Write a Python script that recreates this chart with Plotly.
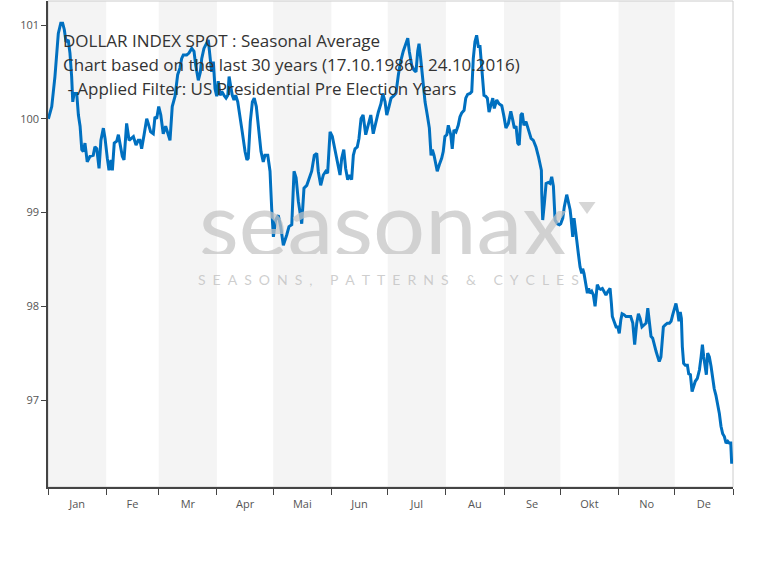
import plotly.graph_objects as go

# ---- data (day of year, seasonal average value) ----
days = [0.2, 2.0, 3.7, 5.5, 6.8, 7.8, 8.7, 9.6, 10.8, 11.7, 12.6, 13.2, 13.9, 15.3, 16.2, 17.1, 18.0, 18.8,
        19.7, 20.9, 22.4, 24.1, 25.0, 26.0, 27.2, 28.2, 29.5, 30.4, 31.6, 32.5, 33.6, 34.3, 35.3, 36.6, 37.5,
        38.7, 39.6, 40.5, 41.9, 43.2, 44.2, 45.5, 46.9, 48.1, 49.0, 49.9, 51.2, 52.6, 53.4, 54.7, 56.1, 57.0,
        57.9, 59.0, 60.1, 61.4, 62.7, 64.1, 65.0, 66.2, 67.7, 69.1, 70.3, 71.2, 72.1, 73.9, 75.1, 76.6, 77.8,
        78.7, 80.1, 81.2, 81.9, 83.1, 84.6, 85.4, 86.5, 87.2, 88.1, 89.0, 89.9, 90.7, 91.7, 92.6, 93.8, 94.9,
        95.8, 96.5, 97.4, 98.2, 99.1, 100.0, 101.1, 102.3, 103.5, 105.0, 106.0, 106.7, 107.8, 108.9, 109.9,
        111.0, 112.1, 113.5, 114.7, 115.6, 117.1, 118.3, 119.2, 120.1, 121.3, 122.7, 124.0, 125.4, 127.2,
        128.4, 129.9, 131.1, 132.2, 133.4, 135.2, 136.4, 137.9, 139.1, 140.5, 141.9, 143.2, 144.0, 145.3,
        146.7, 148.0, 149.0, 150.3, 151.5, 152.9, 154.4, 155.6, 156.5, 157.6, 158.6, 159.7, 160.8, 161.8,
        162.7, 163.6, 164.8, 165.7, 166.8, 167.9, 169.3, 170.7, 172.0, 173.3, 174.6, 176.0, 177.4, 178.4,
        179.6, 180.5, 181.7, 182.8, 184.0, 185.4, 186.7, 187.9, 189.3, 190.6, 191.7, 192.5, 193.8, 195.0,
        196.1, 197.0, 197.7, 198.6, 199.7, 200.9, 202.1, 203.2, 204.1, 204.8, 205.7, 206.6, 207.4, 208.5,
        209.8, 210.6, 211.5, 212.5, 213.3, 214.6, 215.4, 216.3, 217.4, 218.6, 219.5, 220.4, 221.7, 222.6,
        223.6, 224.9, 225.8, 226.6, 227.5, 228.4, 229.3, 230.2, 231.1, 232.3, 233.2, 234.1, 235.0, 236.1,
        237.0, 237.8, 239.1, 240.3, 241.8, 243.0, 244.0, 245.3, 246.6, 247.6, 248.5, 249.4, 250.3, 251.1,
        252.0, 252.7, 253.6, 254.7, 255.9, 257.4, 258.6, 260.0, 261.3, 262.2, 262.9, 263.1, 263.6, 264.5,
        265.4, 266.6, 267.5, 268.4, 269.3, 270.2, 271.4, 272.5, 273.2, 274.3, 275.1, 276.4, 277.2, 278.2,
        278.7, 279.6, 280.3, 281.0, 281.7, 282.6, 283.5, 284.4, 284.9, 285.6, 286.5, 287.4, 288.1, 288.8,
        289.7, 290.6, 291.5, 292.0, 292.7, 293.6, 294.5, 295.4, 296.3, 297.3, 298.4, 299.5, 300.2, 300.7,
        301.6, 302.7, 303.6, 304.4, 305.2, 305.9, 306.9, 308.0, 309.2, 310.5, 311.6, 312.6, 313.7, 314.6,
        315.5, 316.5, 317.6, 318.7, 319.6, 320.3, 321.3, 322.2, 323.1, 324.0, 324.9, 325.7, 326.6, 327.3,
        327.9, 328.8, 330.0, 331.1, 332.0, 332.9, 333.7, 334.6, 335.5, 336.2, 336.9, 337.5, 338.0, 338.7,
        339.6, 340.7, 341.4, 342.3, 343.2, 343.9, 344.9, 346.0, 347.1, 348.0, 348.7, 349.4, 350.1, 350.8,
        351.5, 352.4, 353.3, 354.2, 355.0, 355.9, 356.8, 357.7, 358.6, 359.5, 360.4, 361.3, 362.2, 363.0,
        363.8, 364.3]
values = [100.00, 100.13, 100.45, 100.91, 101.02, 101.02, 100.95, 100.82, 100.84, 100.70, 100.45, 100.18,
          100.27, 100.27, 100.04, 99.92, 99.67, 99.65, 99.74, 99.54, 99.60, 99.61, 99.70, 99.68, 99.47, 99.77,
          99.90, 99.79, 99.58, 99.45, 99.56, 99.45, 99.74, 99.76, 99.83, 99.70, 99.60, 99.56, 99.95, 99.77,
          99.79, 99.81, 99.72, 99.77, 99.77, 99.68, 99.83, 100.00, 99.95, 99.86, 99.84, 100.02, 100.00, 100.13,
          100.04, 99.84, 99.92, 99.84, 99.77, 100.13, 100.24, 100.47, 100.54, 100.64, 100.68, 100.68, 100.70,
          100.75, 100.72, 100.57, 100.41, 100.50, 100.64, 100.75, 100.82, 100.84, 100.63, 100.50, 100.61,
          100.32, 100.24, 100.40, 100.25, 100.29, 100.25, 100.22, 100.25, 100.45, 100.34, 100.25, 100.20,
          100.25, 100.18, 100.04, 99.86, 99.65, 99.56, 99.58, 99.97, 100.18, 100.22, 100.13, 99.90, 99.65,
          99.54, 99.61, 99.61, 99.44, 99.04, 98.74, 98.92, 98.97, 98.85, 98.65, 98.76, 98.85, 98.87, 99.44,
          99.37, 99.12, 98.88, 99.26, 99.29, 99.37, 99.44, 99.61, 99.63, 99.44, 99.29, 99.40, 99.44, 99.42,
          99.86, 99.81, 99.68, 99.54, 99.40, 99.58, 99.67, 99.47, 99.35, 99.40, 99.35, 99.61, 99.68, 99.70,
          99.79, 100.00, 100.04, 99.83, 99.93, 100.04, 99.84, 99.97, 100.07, 100.16, 100.27, 100.18, 100.04,
          100.13, 100.22, 100.24, 100.27, 100.47, 100.61, 100.72, 100.79, 100.86, 100.72, 100.57, 100.52,
          100.50, 100.72, 100.80, 100.64, 100.40, 100.18, 100.04, 99.90, 99.61, 99.67, 99.61, 99.51, 99.44,
          99.51, 99.58, 99.65, 99.81, 99.83, 99.93, 99.83, 99.68, 99.88, 99.86, 99.93, 100.02, 100.06, 100.09,
          100.22, 100.26, 100.27, 100.29, 100.64, 100.82, 100.89, 100.77, 100.77, 100.54, 100.25, 100.24,
          100.22, 100.07, 100.15, 100.22, 100.11, 100.20, 100.16, 100.14, 100.02, 99.90, 99.95, 100.08, 99.99,
          99.90, 99.92, 99.74, 99.72, 100.04, 100.06, 99.93, 99.97, 99.90, 99.79, 99.77, 99.70, 99.60, 99.52,
          99.45, 99.20, 98.92, 99.10, 99.31, 99.32, 99.31, 99.38, 99.28, 98.92, 98.88, 98.87, 98.88, 98.94,
          99.06, 99.19, 99.12, 99.03, 98.94, 98.74, 98.94, 98.85, 98.71, 98.56, 98.42, 98.35, 98.40, 98.35,
          98.24, 98.14, 98.19, 98.14, 98.16, 98.12, 98.00, 98.10, 98.23, 98.19, 98.18, 98.19, 98.16, 98.12,
          98.16, 98.19, 98.03, 97.89, 97.84, 97.78, 97.78, 97.71, 97.85, 97.92, 97.91, 97.89, 97.89, 97.89,
          97.82, 97.59, 97.82, 97.92, 97.87, 97.78, 97.80, 97.82, 97.98, 97.85, 97.68, 97.66, 97.57, 97.52,
          97.46, 97.41, 97.46, 97.62, 97.78, 97.80, 97.82, 97.82, 97.84, 97.91, 97.98, 98.03, 97.94, 97.84,
          97.94, 97.87, 97.57, 97.39, 97.37, 97.37, 97.28, 97.27, 97.09, 97.14, 97.20, 97.23, 97.32, 97.46,
          97.59, 97.46, 97.36, 97.27, 97.50, 97.46, 97.36, 97.20, 97.12, 97.05, 96.96, 96.86, 96.72, 96.64,
          96.61, 96.54, 96.56, 96.54, 96.54, 96.32]

month_labels = ["Jan", "Fe", "Mr", "Apr", "Mai", "Jun", "Jul", "Au", "Se", "Okt", "No", "De"]
month_starts = [0, 31, 59, 90, 120, 151, 181, 212, 243, 273, 304, 334, 365]
y_ticks = [97, 98, 99, 100, 101]

title_lines = ["DOLLAR INDEX SPOT : Seasonal Average",
               "Chart based on the last 30 years (17.10.1986 - 24.10.2016)",
               " - Applied Filter: US Presidential Pre Election Years"]

month_mids = [(month_starts[i] + month_starts[i + 1]) / 2 for i in range(12)]

fig = go.Figure()
fig.add_trace(go.Scatter(x=days, y=values, mode="lines",
                         line=dict(color="#0070c0", width=3), hoverinfo="skip"))

shapes = []
for i in range(0, 12, 2):
    shapes.append(dict(type="rect", xref="x", yref="paper", x0=month_starts[i], x1=month_starts[i + 1],
                       y0=0, y1=1, fillcolor="#f4f4f4", line=dict(width=0), layer="below"))
# plot frame
shapes.append(dict(type="rect", xref="paper", yref="paper", x0=0, x1=1, y0=0, y1=1,
                   line=dict(color="#cccccc", width=1), layer="below"))
# watermark triangle
shapes.append(dict(type="path", xref="paper", yref="paper",
                   path="M 0.7745,0.5864 L 0.7993,0.5864 L 0.7869,0.5617 Z",
                   fillcolor="rgba(200,200,200,0.75)", line=dict(width=0), layer="below"))

annotations = []
title_y = [41, 64, 88]
for txt, py in zip(title_lines, title_y):
    annotations.append(dict(text=txt, xref="paper", yref="paper",
                            x=(61 - 48) / 685, y=(487 - py) / 486, xanchor="left", yanchor="middle",
                            showarrow=False, font=dict(family="Open Sans", size=17, color="#333333")))
annotations.append(dict(text="seasonax", xref="paper", yref="paper", x=(383 - 48) / 685, y=(487 - 221) / 486,
                        xanchor="center", yanchor="middle", showarrow=False, height=66, valign="middle",
                        font=dict(family="Lato", size=92, color="rgba(195,195,195,0.72)")))
sub = "\u2003\u2002".join("\u2002".join(w) for w in ["SEASONS,", "PATTERNS", "&", "CYCLES"])
annotations.append(dict(text=sub, xref="paper", yref="paper",
                        x=(388 - 48) / 685, y=(487 - 279) / 486, xanchor="center", yanchor="middle",
                        showarrow=False,
                        font=dict(family="Lato", size=14, color="rgba(190,190,190,0.75)")))

fig.update_layout(
    width=775, height=567,
    margin=dict(l=48, r=42, t=1, b=80),
    paper_bgcolor="white", plot_bgcolor="white",
    showlegend=False,
    shapes=shapes, annotations=annotations,
    xaxis=dict(range=[0, 365], tickvals=month_mids, ticktext=month_labels, ticks="outside",
               ticklen=6, tickcolor="rgba(0,0,0,0)", showgrid=False, zeroline=False,
               showline=True, linecolor="#444444", linewidth=1.5,
               tickfont=dict(family="Open Sans", size=11, color="#555555"),
               minor=dict(tickvals=month_starts, ticks="outside", ticklen=6, tickcolor="#444444",
                          tickwidth=1, showgrid=False)),
    yaxis=dict(range=[96.072, 101.256], tickvals=y_ticks, ticktext=[str(v) for v in y_ticks],
               ticks="outside", ticklen=5, tickcolor="#444444", showgrid=False, zeroline=False,
               showline=True, linecolor="#444444", linewidth=1.5,
               tickfont=dict(family="Open Sans", size=11, color="#555555")),
)

fig.write_html("out.html", config={"displayModeBar": False},
               post_script="document.body.style.margin='0';document.body.style.padding='0';")
